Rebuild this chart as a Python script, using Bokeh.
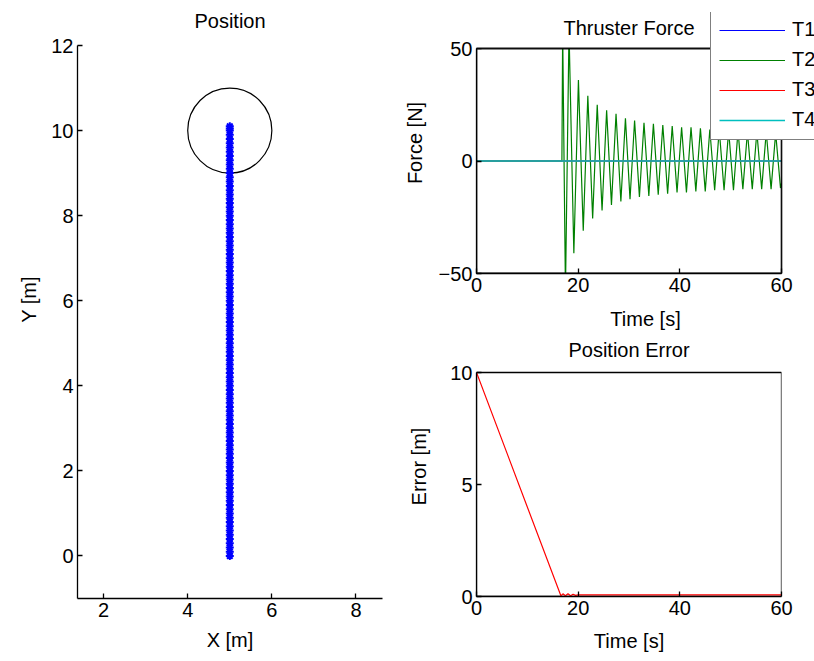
from bokeh.plotting import figure
from bokeh.layouts import row, column
from bokeh.models import (FixedTicker, Range1d, Legend, LegendItem,
                          BoxAnnotation, Label)
from bokeh.embed import file_html
from bokeh.resources import INLINE

FONT = "Liberation Sans"
FS = "20px"

# ---------------- data ----------------
# Position plot: trajectory along x = 5 from y = 0 to ~10.1
path_y = [0.0, 0.1, 0.2, 0.3, 0.4, 0.5, 0.6, 0.7, 0.8, 0.9,
          1.0, 1.1, 1.2, 1.3, 1.4, 1.5, 1.6, 1.7, 1.8, 1.9,
          2.0, 2.1, 2.2, 2.3, 2.4, 2.5, 2.6, 2.7, 2.8, 2.9,
          3.0, 3.1, 3.2, 3.3, 3.4, 3.5, 3.6, 3.7, 3.8, 3.9,
          4.0, 4.1, 4.2, 4.3, 4.4, 4.5, 4.6, 4.7, 4.8, 4.9,
          5.0, 5.1, 5.2, 5.3, 5.4, 5.5, 5.6, 5.7, 5.8, 5.9,
          6.0, 6.1, 6.2, 6.3, 6.4, 6.5, 6.6, 6.7, 6.8, 6.9,
          7.0, 7.1, 7.2, 7.3, 7.4, 7.5, 7.6, 7.7, 7.8, 7.9,
          8.0, 8.1, 8.2, 8.3, 8.4, 8.5, 8.6, 8.7, 8.8, 8.9,
          9.0, 9.1, 9.2, 9.3, 9.4, 9.5, 9.6, 9.7, 9.8, 9.9,
          10.0, 10.05, 10.1]
path_x = [5.0] * len(path_y)
target_x = [5.0]
target_y = [10.0]
target_d = [2.0]

# Thruster forces
flat_time = [0, 60]
t1_force = [0, 0]
t3_force = [0, 0]
t4_force = [0, 0]
t2_time = [0, 16.8, 16.95, 17.5, 18.2, 19.15, 20.05, 21.0, 21.9, 22.85, 23.75,
           24.7, 25.6, 26.55, 27.45, 28.4, 29.3, 30.2, 31.1, 32.05, 32.95,
           33.9, 34.8, 35.75, 36.65, 37.6, 38.5, 39.45, 40.35, 41.3, 42.2,
           43.15, 44.05, 45.0, 45.9, 46.85, 47.75, 48.7, 49.6, 50.55, 51.45,
           52.4, 53.3, 54.25, 55.15, 56.1, 57.0, 57.95, 58.85, 59.8, 60.0]
t2_force = [0, 0, 58, -58, 58, -41, 36, -31, 29, -25.5, 25,
            -22, 22.5, -19.5, 21, -18, 19, -17, 18, -16, 17,
            -15.5, 16.5, -15, 16, -14.5, 15.5, -14, 15, -14, 15,
            -13.5, 14.5, -13.5, 14, -13, 14, -13, 13.5, -13, 13.5,
            -12.5, 13, -12.5, 13, -12.5, 13, -12.5, 12.5, -12, -10]

# Position error
err_time = [0, 16.6, 17.0, 17.5, 18.0, 18.5, 19.0, 19.5, 20.0, 60]
err_val = [10, 0.03, 0.12, 0.03, 0.12, 0.03, 0.1, 0.05, 0.07, 0.07]

# axis limits and ticks
pos_xlim = (1.38, 8.63)
pos_ylim = (-1, 12)
time_lim = (0, 60)
force_lim = (-50, 50)
err_lim = (0, 10)
pos_xticks = [2, 4, 6, 8]
pos_yticks = [0, 2, 4, 6, 8, 10, 12]
time_ticks = [0, 20, 40, 60]
force_ticks = [-50, 0, 50]
err_ticks = [0, 5, 10]


def style_axis(ax, ticks, label_standoff=5, bounds=None):
    ax.ticker = FixedTicker(ticks=ticks)
    if bounds is not None:
        ax.bounds = bounds
    ax.major_tick_in = 5
    ax.major_tick_out = 0
    ax.minor_tick_in = 0
    ax.minor_tick_out = 0
    ax.axis_line_color = "black"
    ax.axis_line_width = 1.3
    ax.major_tick_line_color = "black"
    ax.major_tick_line_width = 1.3
    ax.major_label_text_font = FONT
    ax.major_label_text_color = "black"
    ax.major_label_text_font_size = FS
    ax.major_label_standoff = 4
    ax.axis_label_text_font = FONT
    ax.axis_label_text_font_style = "normal"
    ax.axis_label_text_font_size = FS
    ax.axis_label_text_color = "black"
    ax.axis_label_standoff = label_standoff


def style_fig(p):
    p.frame_align = False
    p.outline_line_color = None
    p.xgrid.visible = False
    p.ygrid.visible = False
    p.background_fill_color = "white"
    p.border_fill_color = "white"


def add_title(p, text, x, y):
    p.add_layout(Label(x=x, y=y, text=text, text_font=FONT,
                       text_font_size=FS, text_color="black",
                       text_align="center", text_baseline="middle"))


# ---------------- Position ----------------
# frame extended up to the page top so the title sits inside it
P1_PY = 553 / (pos_ylim[1] - pos_ylim[0])
p1 = figure(width=400, height=661, output_backend="svg",
            toolbar_location=None, x_range=Range1d(*pos_xlim),
            y_range=Range1d(pos_ylim[0], pos_ylim[1] + 45 / P1_PY),
            min_border_left=77, min_border_right=18,
            min_border_top=0, min_border_bottom=63)
style_fig(p1)
p1.xaxis.axis_label = "X [m]"
p1.yaxis.axis_label = "Y [m]"
style_axis(p1.xaxis[0], pos_xticks, 9)
style_axis(p1.yaxis[0], pos_yticks, 8, bounds=pos_ylim)
p1.ellipse(x=target_x, y=target_y, width=target_d, height=target_d,
           fill_color=None, line_color="black", line_width=1.2)
p1.scatter(x=path_x, y=path_y, marker="asterisk", size=8, line_width=2,
           color="blue")
add_title(p1, "Position", (pos_xlim[0] + pos_xlim[1]) / 2,
          pos_ylim[1] + 25 / P1_PY)

# ---------------- Thruster Force ----------------
# frame extended to the right/top so that the legend can overhang the box
PX_X = 305 / (time_lim[1] - time_lim[0])
P2_PY = 225 / (force_lim[1] - force_lim[0])
p2 = figure(width=414, height=336, output_backend="svg",
            toolbar_location=None,
            x_range=Range1d(time_lim[0], time_lim[0] + 338 / PX_X),
            y_range=Range1d(force_lim[0], force_lim[0] + 261 / P2_PY),
            min_border_left=76, min_border_right=0, min_border_top=12,
            min_border_bottom=63)
style_fig(p2)
p2.xaxis.axis_label = "Time [s]"
p2.yaxis.axis_label = "Force [N]"
style_axis(p2.xaxis[0], time_ticks, 13, bounds=time_lim)
style_axis(p2.yaxis[0], force_ticks, 10, bounds=force_lim)

r1 = p2.line(flat_time, t1_force, color="blue", line_width=1.2)
r2 = p2.line(t2_time, t2_force, color="green", line_width=1.2)
r3 = p2.line(flat_time, t3_force, color="red", line_width=1.2)
r4 = p2.line(flat_time, t4_force, color="#00BFBF", line_width=1.5)

# mask anything drawn above the axes box
p2.add_layout(BoxAnnotation(left=time_lim[0], right=time_lim[1],
                            bottom=force_lim[1], fill_color="white",
                            fill_alpha=1.0, line_color=None))
# the axes box: several translucent outlines stacked to a near-black edge
for _ in range(8):
    p2.add_layout(BoxAnnotation(left=time_lim[0], right=time_lim[1],
                                bottom=force_lim[0], top=force_lim[1],
                                fill_alpha=0.0, line_color="black",
                                line_width=1.3))
add_title(p2, "Thruster Force", (time_lim[0] + time_lim[1]) / 2,
          force_lim[1] + 21 / P2_PY)

legend = Legend(items=[LegendItem(label="T1", renderers=[r1]),
                       LegendItem(label="T2", renderers=[r2]),
                       LegendItem(label="T3", renderers=[r3]),
                       LegendItem(label="T4", renderers=[r4])],
                location=(234, 133))
legend.label_text_font = FONT
legend.label_text_font_size = FS
legend.label_text_color = "black"
legend.glyph_width = 66
legend.glyph_height = 20
legend.label_height = 20
legend.spacing = 7
legend.padding = 8
legend.margin = 0
legend.label_standoff = 7
legend.border_line_color = "black"
legend.border_line_width = 1.3
legend.background_fill_color = "white"
legend.background_fill_alpha = 1.0
p2.add_layout(legend, "center")

# ---------------- Position Error ----------------
P3_PY = 224 / (err_lim[1] - err_lim[0])
p3 = figure(width=414, height=325, output_backend="svg",
            toolbar_location=None, x_range=Range1d(*time_lim),
            y_range=Range1d(err_lim[0], err_lim[1] + 36 / P3_PY),
            min_border_left=76, min_border_right=33,
            min_border_top=0, min_border_bottom=65)
style_fig(p3)
p3.xaxis.axis_label = "Time [s]"
p3.yaxis.axis_label = "Error [m]"
style_axis(p3.xaxis[0], time_ticks, 12)
style_axis(p3.yaxis[0], err_ticks, 17, bounds=err_lim)
p3.quad(left=[time_lim[0]], right=[time_lim[1]], bottom=[err_lim[0]],
        top=[err_lim[1]], fill_color=None, line_color="black", line_width=1.3)
p3.line(err_time, err_val, color="red", line_width=1.2)
add_title(p3, "Position Error", (time_lim[0] + time_lim[1]) / 2,
          err_lim[1] + 23 / P3_PY)

layout = row(p1, column(p2, p3, spacing=0), spacing=0)
open("out.html", "w").write(file_html(layout, INLINE))
